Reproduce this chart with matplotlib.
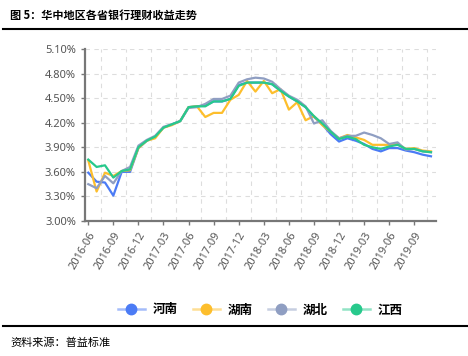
import numpy as np
import matplotlib.pyplot as plt
from matplotlib.lines import Line2D
from matplotlib.colors import to_rgba

plt.rcParams['font.family'] = ['Noto Sans CJK SC', 'DejaVu Sans']

# monthly, 2016-06 .. 2019-11
months = [f'{2016 + (5 + i) // 12}-{(5 + i) % 12 + 1:02d}' for i in range(42)]

henan = [3.59, 3.48, 3.47, 3.31, 3.60, 3.60, 3.89, 3.98, 4.03, 4.14, 4.18, 4.22,
         4.39, 4.40, 4.41, 4.46, 4.46, 4.49, 4.66, 4.69, 4.69, 4.69, 4.67, 4.59,
         4.52, 4.46, 4.39, 4.27, 4.18, 4.06, 3.97, 4.01, 3.98, 3.94, 3.88, 3.85,
         3.89, 3.89, 3.86, 3.84, 3.81, 3.79]
hunan = [3.74, 3.36, 3.59, 3.55, 3.61, 3.62, 3.89, 3.98, 4.01, 4.14, 4.17, 4.22,
         4.39, 4.40, 4.27, 4.32, 4.32, 4.48, 4.54, 4.71, 4.58, 4.71, 4.56, 4.61,
         4.36, 4.45, 4.23, 4.28, 4.17, 4.09, 4.01, 4.05, 4.02, 3.99, 3.93, 3.93,
         3.93, 3.94, 3.88, 3.89, 3.86, 3.85]
hubei = [3.45, 3.40, 3.55, 3.46, 3.61, 3.66, 3.92, 3.99, 4.04, 4.15, 4.18, 4.22,
         4.38, 4.39, 4.43, 4.49, 4.49, 4.53, 4.69, 4.73, 4.75, 4.74, 4.70, 4.61,
         4.53, 4.48, 4.40, 4.19, 4.23, 4.10, 4.01, 4.04, 4.04, 4.08, 4.05, 4.01,
         3.94, 3.96, 3.87, 3.88, 3.85, 3.84]
jiangxi = [3.75, 3.66, 3.68, 3.53, 3.61, 3.63, 3.90, 3.98, 4.03, 4.14, 4.18, 4.22,
           4.39, 4.40, 4.40, 4.46, 4.46, 4.49, 4.65, 4.69, 4.69, 4.69, 4.67, 4.59,
           4.52, 4.46, 4.39, 4.28, 4.19, 4.09, 4.00, 4.03, 4.00, 3.93, 3.90, 3.88,
           3.91, 3.93, 3.88, 3.88, 3.85, 3.84]

series = [('河南', henan, '#4B7BF5'), ('湖南', hunan, '#FDBE2C'),
          ('湖北', hubei, '#8F9EC2'), ('江西', jiangxi, '#27C98C')]

fig = plt.figure(figsize=(4.68, 3.56), dpi=100)
ax = fig.add_axes([85 / 468, 1 - 221 / 356, 351 / 468, 172 / 356])

x = np.arange(len(months))
for name, vals, c in series:
    ax.plot(x, vals, color=c, lw=1.6, label=name)

ax.set_xlim(-0.39, 41.6)
ax.set_ylim(3.0, 5.1)
yt = np.arange(3.0, 5.11, 0.3)
ax.set_yticks(yt)
ax.set_yticklabels([f'{v:.2f}%' for v in yt], fontsize=8, color='#555555',
                   family=['Noto Sans', 'DejaVu Sans'])
ax.set_xticks(x[::3])
ax.set_xticklabels(months[::3], rotation=60, ha='right', rotation_mode='anchor',
                   fontsize=8, color='#555555', family=['Noto Sans', 'DejaVu Sans'])
ax.set_xticks(x[::3] + 1.5, minor=True)
ax.tick_params(axis='x', which='minor', length=0)
ax.tick_params(axis='both', which='major', length=3, color='#777777', width=1)

ax.grid(axis='y', which='major', ls=(0, (4, 4)), color='#dddddd', lw=0.8)
ax.grid(axis='x', which='minor', ls=(0, (4, 4)), color='#dddddd', lw=0.8)
ax.set_axisbelow(True)
for s in ['top', 'right']:
    ax.spines[s].set_visible(False)
for s in ['left', 'bottom']:
    ax.spines[s].set_color('#777777')
    ax.spines[s].set_linewidth(1.6)

handles = [Line2D([0], [0], color=to_rgba(c, 0.5), lw=1.8, marker='o', markersize=7.5,
                  markerfacecolor=c, markeredgecolor=c) for _, _, c in series]
fig.legend(handles, [s[0] for s in series], loc='center', bbox_to_anchor=(260 / 468, 1 - 310 / 356),
           ncol=4, frameon=False, handlelength=2.2, columnspacing=1.2, handletextpad=0.6,
           prop={'size': 9, 'weight': 'bold'})

fig.text(10 / 468, 1 - 15 / 356, '图 5：华中地区各省银行理财收益走势', fontsize=8,
         weight='bold', va='center', ha='left')
fig.add_artist(Line2D([3 / 468, 1], [1 - 29 / 356] * 2, color='black', lw=1.5))
fig.add_artist(Line2D([3 / 468, 467 / 468], [1 - 326 / 356] * 2, color='black', lw=1.5))
fig.text(10 / 468, 1 - 343 / 356, '资料来源：普益标准', fontsize=8, va='center', ha='left')

fig.savefig('out.png', dpi=100)
